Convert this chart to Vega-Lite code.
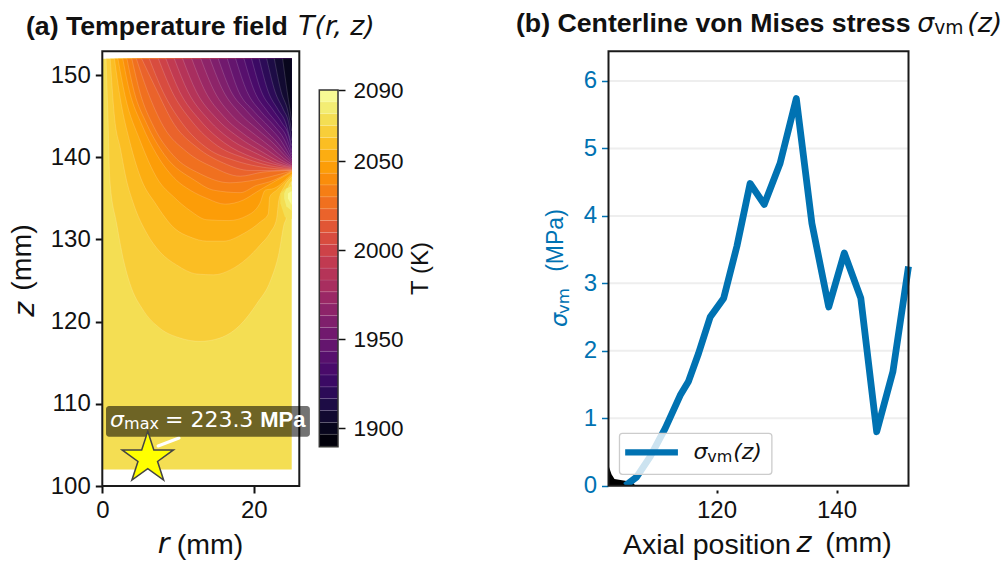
{"$schema":"https://vega.github.io/schema/vega-lite/v6.json","padding":0,"autosize":{"type":"none"},"width":1008,"height":566,"background":"white","config":{"font":"Liberation Sans","view":{"stroke":null},"axis":{"labelFont":"Liberation Sans","titleFont":"Liberation Sans","titleFontWeight":"normal","grid":false,"domain":false,"tickColor":"#111","tickWidth":2,"tickSize":7,"labelColor":"#111","titleColor":"#111","labelFontSize":24,"titleFontSize":28.5,"labelPadding":5,"zindex":1,"labelOverlap":false,"labelFlush":false}},
"resolve":{"scale":{"x":"independent","y":"independent"},"axis":{"x":"independent","y":"independent"}},
"datasets":{"contours":[
{"T":2066.7,"r":0.5,"z":152},{"T":2066.7,"r":0.75,"z":145},{"T":2066.7,"r":1,"z":137.2},{"T":2066.7,"r":1.9,"z":131.9},{"T":2066.7,"r":2.8,"z":127.5},{"T":2066.7,"r":3.66,"z":124.6},{"T":2066.7,"r":5.4,"z":121.4},{"T":2066.7,"r":7.6,"z":119.2},{"T":2066.7,"r":10.3,"z":118},{"T":2066.7,"r":12.9,"z":117.6},{"T":2066.7,"r":15.5,"z":118},{"T":2066.7,"r":18.2,"z":119.6},{"T":2066.7,"r":20.4,"z":122.2},{"T":2066.7,"r":22.2,"z":125},{"T":2066.7,"r":23.3,"z":128.3},{"T":2066.7,"r":24,"z":131.9},{"T":2066.7,"r":24.3,"z":132.7},{"T":2066.7,"r":24.35,"z":135.6},{"T":2066.7,"r":25,"z":137.1},
{"T":2060,"r":1.05,"z":152},{"T":2060,"r":1.6,"z":145},{"T":2060,"r":2.4,"z":141},{"T":2060,"r":3.2,"z":137.2},{"T":2060,"r":4.1,"z":134.4},{"T":2060,"r":5.9,"z":130.7},{"T":2060,"r":7.6,"z":128.5},{"T":2060,"r":9.8,"z":126.9},{"T":2060,"r":12.5,"z":125.8},{"T":2060,"r":14.7,"z":125.7},{"T":2060,"r":16.9,"z":126.3},{"T":2060,"r":19.1,"z":127.7},{"T":2060,"r":20.8,"z":129.3},{"T":2060,"r":22.2,"z":130.9},{"T":2060,"r":23,"z":132.5},{"T":2060,"r":23.3,"z":134.8},{"T":2060,"r":24,"z":136.4},{"T":2060,"r":25,"z":137.6},
{"T":2053.3,"r":1.6,"z":152},{"T":2053.3,"r":2.4,"z":147},{"T":2053.3,"r":3.6,"z":142},{"T":2053.3,"r":5.2,"z":137.2},{"T":2053.3,"r":7,"z":134.4},{"T":2053.3,"r":9.6,"z":131.3},{"T":2053.3,"r":11.6,"z":130.3},{"T":2053.3,"r":13.8,"z":129.8},{"T":2053.3,"r":16,"z":129.8},{"T":2053.3,"r":18.6,"z":130.7},{"T":2053.3,"r":20.8,"z":132.1},{"T":2053.3,"r":21.9,"z":133.1},{"T":2053.3,"r":22.1,"z":135.2},{"T":2053.3,"r":23,"z":136},{"T":2053.3,"r":25,"z":137.8},
{"T":2046.7,"r":2.06,"z":152},{"T":2046.7,"r":3,"z":147.5},{"T":2046.7,"r":5,"z":142},{"T":2046.7,"r":7.4,"z":137.2},{"T":2046.7,"r":9.4,"z":135.2},{"T":2046.7,"r":11.6,"z":133.5},{"T":2046.7,"r":13.8,"z":132.4},{"T":2046.7,"r":16.7,"z":132.3},{"T":2046.7,"r":19.1,"z":132.9},{"T":2046.7,"r":20.8,"z":134.4},{"T":2046.7,"r":21.5,"z":136},{"T":2046.7,"r":22.6,"z":136.2},{"T":2046.7,"r":25,"z":138},
{"T":2040,"r":2.7,"z":152},{"T":2040,"r":3.6,"z":148},{"T":2040,"r":5.2,"z":144},{"T":2040,"r":7.2,"z":140.3},{"T":2040,"r":9.8,"z":137.2},{"T":2040,"r":11.6,"z":136},{"T":2040,"r":13.8,"z":135},{"T":2040,"r":16.2,"z":134.3},{"T":2040,"r":18.6,"z":134.8},{"T":2040,"r":20.4,"z":135.8},{"T":2040,"r":21.3,"z":136.3},{"T":2040,"r":25,"z":138.2},
{"T":2033.3,"r":3.25,"z":152},{"T":2033.3,"r":4.2,"z":148},{"T":2033.3,"r":5.9,"z":144},{"T":2033.3,"r":8.2,"z":140.3},{"T":2033.3,"r":12.2,"z":137.2},{"T":2033.3,"r":14.7,"z":136},{"T":2033.3,"r":18.2,"z":135.7},{"T":2033.3,"r":20.4,"z":136.6},{"T":2033.3,"r":22,"z":137},{"T":2033.3,"r":25,"z":138.3},
{"T":2026.7,"r":3.9,"z":152},{"T":2026.7,"r":5,"z":147.8},{"T":2026.7,"r":6.8,"z":143.7},{"T":2026.7,"r":9.4,"z":140.2},{"T":2026.7,"r":12.9,"z":138},{"T":2026.7,"r":16.8,"z":136.9},{"T":2026.7,"r":19.9,"z":137.2},{"T":2026.7,"r":22,"z":137.6},{"T":2026.7,"r":25,"z":138.35},
{"T":2020,"r":4.5,"z":152},{"T":2020,"r":5.9,"z":148.2},{"T":2020,"r":8.1,"z":143.7},{"T":2020,"r":11.1,"z":140.7},{"T":2020,"r":14.6,"z":138.8},{"T":2020,"r":18.2,"z":137.7},{"T":2020,"r":21.2,"z":138.2},{"T":2020,"r":25,"z":138.4},
{"T":2013.3,"r":5.2,"z":152},{"T":2013.3,"r":7,"z":148.5},{"T":2013.3,"r":9.5,"z":144},{"T":2013.3,"r":12.5,"z":141.2},{"T":2013.3,"r":16,"z":139.3},{"T":2013.3,"r":19.5,"z":138.4},{"T":2013.3,"r":22,"z":138.4},{"T":2013.3,"r":25,"z":138.45},
{"T":2006.7,"r":6.2,"z":152},{"T":2006.7,"r":8,"z":148},{"T":2006.7,"r":10.5,"z":144.2},{"T":2006.7,"r":14,"z":141},{"T":2006.7,"r":17.5,"z":139.6},{"T":2006.7,"r":20.5,"z":138.9},{"T":2006.7,"r":25,"z":138.5},
{"T":2000,"r":7.4,"z":152},{"T":2000,"r":9.2,"z":148},{"T":2000,"r":11.8,"z":144.4},{"T":2000,"r":15.2,"z":141.4},{"T":2000,"r":18.8,"z":139.9},{"T":2000,"r":22,"z":139},{"T":2000,"r":25,"z":138.6},
{"T":1993.3,"r":8.4,"z":152},{"T":1993.3,"r":10.2,"z":148},{"T":1993.3,"r":12.9,"z":144.5},{"T":1993.3,"r":16.2,"z":141.7},{"T":1993.3,"r":19.8,"z":140},{"T":1993.3,"r":22.5,"z":139.2},{"T":1993.3,"r":25,"z":138.7},
{"T":1986.7,"r":9.5,"z":152},{"T":1986.7,"r":11.3,"z":148},{"T":1986.7,"r":14,"z":144.6},{"T":1986.7,"r":17.2,"z":142},{"T":1986.7,"r":20.5,"z":140.4},{"T":1986.7,"r":23,"z":139.3},{"T":1986.7,"r":25,"z":138.8},
{"T":1980,"r":10.6,"z":152},{"T":1980,"r":12.4,"z":148},{"T":1980,"r":15,"z":144.8},{"T":1980,"r":18.2,"z":142.3},{"T":1980,"r":21.2,"z":140.6},{"T":1980,"r":23.3,"z":139.5},{"T":1980,"r":25,"z":138.9},
{"T":1973.3,"r":11.8,"z":152},{"T":1973.3,"r":13.6,"z":148},{"T":1973.3,"r":16,"z":145},{"T":1973.3,"r":19,"z":142.6},{"T":1973.3,"r":21.8,"z":140.9},{"T":1973.3,"r":23.6,"z":139.7},{"T":1973.3,"r":25,"z":139},
{"T":1966.7,"r":13,"z":152},{"T":1966.7,"r":14.8,"z":148},{"T":1966.7,"r":17,"z":145.2},{"T":1966.7,"r":19.8,"z":143},{"T":1966.7,"r":22.3,"z":141.2},{"T":1966.7,"r":23.9,"z":139.9},{"T":1966.7,"r":25,"z":139.2},
{"T":1960,"r":14.2,"z":152},{"T":1960,"r":16,"z":148},{"T":1960,"r":18,"z":145.5},{"T":1960,"r":20.6,"z":143.3},{"T":1960,"r":22.8,"z":141.5},{"T":1960,"r":24.1,"z":140.2},{"T":1960,"r":25,"z":139.4},
{"T":1953.3,"r":15.3,"z":152},{"T":1953.3,"r":17,"z":148},{"T":1953.3,"r":19,"z":145.7},{"T":1953.3,"r":21.3,"z":143.5},{"T":1953.3,"r":23.2,"z":141.7},{"T":1953.3,"r":24.3,"z":140.4},{"T":1953.3,"r":25,"z":139.6},
{"T":1946.7,"r":16.5,"z":152},{"T":1946.7,"r":18,"z":148},{"T":1946.7,"r":20,"z":145.6},{"T":1946.7,"r":22,"z":143.7},{"T":1946.7,"r":23.6,"z":142},{"T":1946.7,"r":24.5,"z":140.6},{"T":1946.7,"r":25,"z":139.8},
{"T":1940,"r":17.6,"z":152},{"T":1940,"r":19.1,"z":148},{"T":1940,"r":20.9,"z":145.6},{"T":1940,"r":22.7,"z":143.8},{"T":1940,"r":24,"z":142.2},{"T":1940,"r":25,"z":140.1},
{"T":1933.3,"r":18.7,"z":152},{"T":1933.3,"r":20.1,"z":148},{"T":1933.3,"r":21.7,"z":145.7},{"T":1933.3,"r":23.2,"z":144},{"T":1933.3,"r":24.3,"z":142.5},{"T":1933.3,"r":25,"z":140.4},
{"T":1926.7,"r":19.7,"z":152},{"T":1926.7,"r":21,"z":148},{"T":1926.7,"r":22.5,"z":145.8},{"T":1926.7,"r":23.7,"z":144.2},{"T":1926.7,"r":24.6,"z":142.6},{"T":1926.7,"r":25,"z":140.8},
{"T":1920,"r":20.7,"z":152},{"T":1920,"r":21.9,"z":148},{"T":1920,"r":23.2,"z":145.8},{"T":1920,"r":24.2,"z":144.2},{"T":1920,"r":25,"z":141.4},
{"T":1913.3,"r":21.7,"z":152},{"T":1913.3,"r":22.8,"z":148},{"T":1913.3,"r":23.9,"z":145.8},{"T":1913.3,"r":24.6,"z":144.2},{"T":1913.3,"r":25,"z":142},
{"T":1906.7,"r":22.7,"z":152},{"T":1906.7,"r":23.6,"z":148},{"T":1906.7,"r":24.5,"z":145.6},{"T":1906.7,"r":25,"z":143.2},
{"T":1900,"r":23.8,"z":152},{"T":1900,"r":24.4,"z":148},{"T":1900,"r":25,"z":144.5}
]},
"layer":[
{"encoding":{"x":{"field":"r","type":"quantitative","scale":{"domain":[0,26],"range":[102.3,299.3],"nice":false,"zero":false},"axis":{"orient":"bottom","values":[0,20],"title":"(mm)","offset":-80,"titleX":209.5,"titleY":44}},"y":{"field":"z","type":"quantitative","scale":{"domain":[100,152.9],"range":[486,51.3],"nice":false,"zero":false},"axis":{"orient":"left","values":[100,110,120,130,140,150],"title":"(mm)","offset":-102.3,"titleX":-66,"titleY":257}}},
"layer":[
{"data":{"values":[{"r":0,"z":102,"z2":152,"T":2073.3},{"r":25,"z":102,"z2":152,"T":2073.3}]},"mark":{"type":"area"},"encoding":{"y2":{"field":"z2"},"detail":{"field":"T"},"color":{"field":"T","type":"quantitative","scale":{"scheme":"inferno","domain":[1890,2090]},"legend":null}}},
{"data":{"name":"contours"},"mark":{"type":"area","interpolate":"monotone"},"encoding":{"y2":{"datum":152},"detail":{"field":"T"},"color":{"field":"T","type":"quantitative","scale":{"scheme":"inferno","domain":[1890,2090]},"legend":null}}},
{"data":{"name":"contours"},"mark":{"type":"line","interpolate":"monotone","stroke":"#ffffff","strokeOpacity":0.22,"strokeWidth":0.7},"encoding":{"detail":{"field":"T"}}},
{"data":{"values":[{"r":23.5,"z":134.4,"z2":135.6,"T":2073.3},{"r":24.1,"z":132.7,"z2":136.1,"T":2073.3},{"r":25,"z":132.5,"z2":136.6,"T":2073.3},{"r":24,"z":135,"z2":135.6,"T":2080},{"r":24.3,"z":134,"z2":136.2,"T":2080},{"r":25,"z":133.5,"z2":136.5,"T":2080},{"r":24.5,"z":135,"z2":135.6,"T":2086.7},{"r":25,"z":134.2,"z2":135.9,"T":2086.7}]},"mark":{"type":"area"},"encoding":{"y2":{"field":"z2"},"detail":{"field":"T"},"color":{"field":"T","type":"quantitative","scale":{"scheme":"inferno","domain":[1890,2090]},"legend":null}}},
{"data":{"values":[{"r":0,"r2":26,"z":100,"z2":152.9}]},"mark":{"type":"rect","fill":"transparent","stroke":"#1a1a1a","strokeWidth":2},"encoding":{"x2":{"field":"r2"},"y2":{"field":"z2"}}},
{"data":{"values":[{"r":7.36,"z":104.87},{"r":10.13,"z":105.84}]},"mark":{"type":"line","stroke":"#ffffff","strokeWidth":3,"strokeCap":"round"},"encoding":{}},
{"data":{"values":[{"r":0.49,"z":109.73,"r2":27.4,"z2":106}]},"mark":{"type":"rect","fill":"#000000","fillOpacity":0.55,"cornerRadius":3},"encoding":{"x2":{"field":"r2"},"y2":{"field":"z2"}}},
{"data":{"values":[{"r":6,"z":103.37}]},"mark":{"type":"point","shape":"M0,-1L0.2245,-0.309L0.951,-0.309L0.363,0.118L0.588,0.809L0,0.382L-0.588,0.809L-0.363,0.118L-0.951,-0.309L-0.2245,-0.309Z","filled":true,"fill":"#ffff00","fillOpacity":1,"stroke":"#444444","strokeWidth":1.5,"size":2916}},
{"data":{"values":[{"r":1.02,"z":107.2,"t":"σ"}]},"mark":{"type":"text","align":"left","baseline":"alphabetic","font":"DejaVu Sans","fontStyle":"italic","fontSize":22,"fill":"#ffffff"},"encoding":{"text":{"field":"t"}}},
{"data":{"values":[{"r":2.87,"z":106.9,"t":"max"}]},"mark":{"type":"text","align":"left","baseline":"alphabetic","font":"DejaVu Sans","fontSize":16,"fill":"#ffffff"},"encoding":{"text":{"field":"t"}}},
{"data":{"values":[{"r":8.27,"z":107.2,"t":"= 223.3"}]},"mark":{"type":"text","align":"left","baseline":"alphabetic","font":"DejaVu Sans","fontSize":22,"fill":"#ffffff"},"encoding":{"text":{"field":"t"}}},
{"data":{"values":[{"r":20.83,"z":107.2,"t":"MPa"}]},"mark":{"type":"text","align":"left","baseline":"alphabetic","font":"Liberation Sans","fontWeight":"bold","fontSize":22,"fill":"#ffffff"},"encoding":{"text":{"field":"t"}}},
{"data":{"values":[{"r":-10.08,"z":154.89,"t":"(a) Temperature field"}]},"mark":{"type":"text","align":"left","baseline":"alphabetic","font":"Liberation Sans","fontWeight":"bold","fontSize":26.7,"fill":"#111111"},"encoding":{"text":{"field":"t"}}},
{"data":{"values":[{"r":25.85,"z":154.89,"t":"T(r, z)"}]},"mark":{"type":"text","align":"left","baseline":"alphabetic","font":"DejaVu Sans","fontStyle":"italic","fontSize":26.7,"fill":"#111111"},"encoding":{"text":{"field":"t"}}},
{"data":{"values":[{"r":8.08,"z":92.9,"t":"r"}]},"mark":{"type":"text","align":"center","baseline":"middle","font":"DejaVu Sans","fontStyle":"italic","fontSize":28.5,"fill":"#111111"},"encoding":{"text":{"field":"t"}}},
{"data":{"values":[{"r":-10.2,"z":121.5,"t":"z"}]},"mark":{"type":"text","align":"center","baseline":"middle","angle":270,"font":"DejaVu Sans","fontStyle":"italic","fontSize":28.5,"fill":"#111111"},"encoding":{"text":{"field":"t"}}}
]},
{"encoding":{"x":{"datum":0,"type":"quantitative","scale":{"domain":[0,1],"range":[319.3,338],"nice":false,"zero":false},"axis":null},"x2":{"datum":1},"y":{"field":"lo","type":"quantitative","scale":{"domain":[1889.7,2090],"range":[446.7,90],"nice":false,"zero":false},"axis":{"orient":"right","offset":-670,"values":[1900,1950,2000,2050,2090],"title":"T (K)","titleAngle":270,"titleBaseline":"middle","titleX":82,"titleY":268,"titleFontSize":24,"labelFontSize":22.5,"labelPadding":8,"tickWidth":1.5,"format":"d"}},"y2":{"field":"hi"}},
"layer":[
{"data":{"values":[{"T":1893.3,"lo":1890,"hi":1896.7},{"T":1900,"lo":1896.7,"hi":1903.3},{"T":1906.7,"lo":1903.3,"hi":1910},{"T":1913.3,"lo":1910,"hi":1916.7},{"T":1920,"lo":1916.7,"hi":1923.3},{"T":1926.7,"lo":1923.3,"hi":1930},{"T":1933.3,"lo":1930,"hi":1936.7},{"T":1940,"lo":1936.7,"hi":1943.3},{"T":1946.7,"lo":1943.3,"hi":1950},{"T":1953.3,"lo":1950,"hi":1956.7},{"T":1960,"lo":1956.7,"hi":1963.3},{"T":1966.7,"lo":1963.3,"hi":1970},{"T":1973.3,"lo":1970,"hi":1976.7},{"T":1980,"lo":1976.7,"hi":1983.3},{"T":1986.7,"lo":1983.3,"hi":1990},{"T":1993.3,"lo":1990,"hi":1996.7},{"T":2000,"lo":1996.7,"hi":2003.3},{"T":2006.7,"lo":2003.3,"hi":2010},{"T":2013.3,"lo":2010,"hi":2016.7},{"T":2020,"lo":2016.7,"hi":2023.3},{"T":2026.7,"lo":2023.3,"hi":2030},{"T":2033.3,"lo":2030,"hi":2036.7},{"T":2040,"lo":2036.7,"hi":2043.3},{"T":2046.7,"lo":2043.3,"hi":2050},{"T":2053.3,"lo":2050,"hi":2056.7},{"T":2060,"lo":2056.7,"hi":2063.3},{"T":2066.7,"lo":2063.3,"hi":2070},{"T":2073.3,"lo":2070,"hi":2076.7},{"T":2080,"lo":2076.7,"hi":2083.3},{"T":2086.7,"lo":2083.3,"hi":2090}]},"mark":{"type":"rect","stroke":"#ffffff","strokeOpacity":0.18,"strokeWidth":0.5},"encoding":{"color":{"field":"T","type":"quantitative","scale":{"scheme":"inferno","domain":[1890,2090]},"legend":null}}},
{"data":{"values":[{"lo":1889.7,"hi":2090}]},"mark":{"type":"rect","fill":"transparent","stroke":"#333333","strokeWidth":1.5}}
]},
{"encoding":{"x":{"field":"z","type":"quantitative","scale":{"domain":[102,152],"range":[608.5,908.5],"nice":false,"zero":false},"axis":{"orient":"bottom","values":[120,140],"title":"Axial position","offset":-80,"titleX":706.5,"titleY":44}},"y":{"field":"s","type":"quantitative","scale":{"domain":[0,6.44],"range":[485.7,51.3],"nice":false,"zero":false},"axis":{"orient":"left","values":[0,1,2,3,4,5,6],"title":"(MPa)","offset":-608.5,"titleX":-41.5,"titleY":240,"titleFontSize":23,"labelColor":"#0072B2","tickColor":"#0072B2","titleColor":"#0072B2","tickWidth":1.5}}},
"layer":[
{"data":{"values":[{"z":102,"z2":152,"s":0},{"z":102,"z2":152,"s":1},{"z":102,"z2":152,"s":2},{"z":102,"z2":152,"s":3},{"z":102,"z2":152,"s":4},{"z":102,"z2":152,"s":5},{"z":102,"z2":152,"s":6}]},"mark":{"type":"rule","stroke":"#eeeeee","strokeWidth":2},"encoding":{"x2":{"field":"z2"}}},
{"data":{"values":[{"z":102,"s":0.3},{"z":102.5,"s":0.17},{"z":103,"s":0.1},{"z":105,"s":0.07},{"z":106,"s":0.05},{"z":106.5,"s":0}]},"mark":{"type":"area","fill":"#000000"},"encoding":{}},
{"data":{"values":[{"z":104.8,"s":0.0},{"z":106.7,"s":0.13},{"z":108.95,"s":0.43},{"z":111.45,"s":0.85},{"z":113.95,"s":1.34},{"z":115.3,"s":1.54},{"z":117,"s":1.96},{"z":118.95,"s":2.5},{"z":121.2,"s":2.78},{"z":123.4,"s":3.55},{"z":125.6,"s":4.48},{"z":127.95,"s":4.17},{"z":130.6,"s":4.78},{"z":133.3,"s":5.74},{"z":135.9,"s":3.89},{"z":138.7,"s":2.65},{"z":141.3,"s":3.45},{"z":144.05,"s":2.78},{"z":146.7,"s":0.8},{"z":149.4,"s":1.69},{"z":152,"s":3.25}]},"mark":{"type":"line","stroke":"#0072B2","strokeWidth":6.8,"strokeJoin":"round","strokeCap":"butt"},"encoding":{}},
{"data":{"values":[{"z":102,"z2":152,"s":0,"s2":-0.07}]},"mark":{"type":"rect","fill":"#ffffff"},"encoding":{"x2":{"field":"z2"},"y2":{"field":"s2"}}},
{"data":{"values":[{"z":102,"z2":152,"s":0,"s2":6.44}]},"mark":{"type":"rect","fill":"transparent","stroke":"#1a1a1a","strokeWidth":2},"encoding":{"x2":{"field":"z2"},"y2":{"field":"s2"}}},
{"data":{"values":[{"z":103.83,"s":0.777,"z2":129.23,"s2":0.169}]},"mark":{"type":"rect","fill":"#ffffff","fillOpacity":0.8,"stroke":"#cccccc","strokeWidth":1.3,"cornerRadius":3},"encoding":{"x2":{"field":"z2"},"y2":{"field":"s2"}}},
{"data":{"values":[{"z":104.78,"s":0.495},{"z":113.57,"s":0.495}]},"mark":{"type":"line","stroke":"#0072B2","strokeWidth":6.2},"encoding":{}},
{"data":{"values":[{"z":116.17,"s":0.396,"t":"σ"}]},"mark":{"type":"text","align":"left","baseline":"alphabetic","font":"DejaVu Sans","fontStyle":"italic","fontSize":22,"fill":"#111111"},"encoding":{"text":{"field":"t"}}},
{"data":{"values":[{"z":118.45,"s":0.351,"t":"vm"}]},"mark":{"type":"text","align":"left","baseline":"alphabetic","font":"DejaVu Sans","fontSize":16,"fill":"#111111"},"encoding":{"text":{"field":"t"}}},
{"data":{"values":[{"z":122.78,"s":0.396,"t":"(z)"}]},"mark":{"type":"text","align":"left","baseline":"alphabetic","font":"DejaVu Sans","fontStyle":"italic","fontSize":22,"fill":"#111111"},"encoding":{"text":{"field":"t"}}},
{"data":{"values":[{"z":86.58,"s":6.726,"t":"(b) Centerline von Mises stress"}]},"mark":{"type":"text","align":"left","baseline":"alphabetic","font":"Liberation Sans","fontWeight":"bold","fontSize":26.7,"fill":"#111111"},"encoding":{"text":{"field":"t"}}},
{"data":{"values":[{"z":153.45,"s":6.73,"t":"σ"},{"z":161.8,"s":6.73,"t":"(z)"}]},"mark":{"type":"text","align":"left","baseline":"alphabetic","font":"DejaVu Sans","fontStyle":"italic","fontSize":26.7,"fill":"#111111"},"encoding":{"text":{"field":"t"}}},
{"data":{"values":[{"z":156.3,"s":6.69,"t":"vm"}]},"mark":{"type":"text","align":"left","baseline":"alphabetic","font":"DejaVu Sans","fontSize":18.7,"fill":"#111111"},"encoding":{"text":{"field":"t"}}},
{"data":{"values":[{"z":143.67,"s":-0.85,"t":"(mm)"}]},"mark":{"type":"text","align":"center","baseline":"middle","font":"Liberation Sans","fontSize":28.5,"fill":"#111111"},"encoding":{"text":{"field":"t"}}},
{"data":{"values":[{"z":134.6,"s":-0.85,"t":"z"}]},"mark":{"type":"text","align":"center","baseline":"middle","font":"DejaVu Sans","fontStyle":"italic","fontSize":28.5,"fill":"#111111"},"encoding":{"text":{"field":"t"}}},
{"data":{"values":[{"z":95.07,"s":2.353,"t":"σ"}]},"mark":{"type":"text","align":"left","baseline":"alphabetic","angle":270,"font":"DejaVu Sans","fontStyle":"italic","fontSize":22.5,"fill":"#0072B2"},"encoding":{"text":{"field":"t"}}},
{"data":{"values":[{"z":95.45,"s":2.545,"t":"vm"}]},"mark":{"type":"text","align":"left","baseline":"alphabetic","angle":270,"font":"DejaVu Sans","fontSize":16.5,"fill":"#0072B2"},"encoding":{"text":{"field":"t"}}}
]}
]}
